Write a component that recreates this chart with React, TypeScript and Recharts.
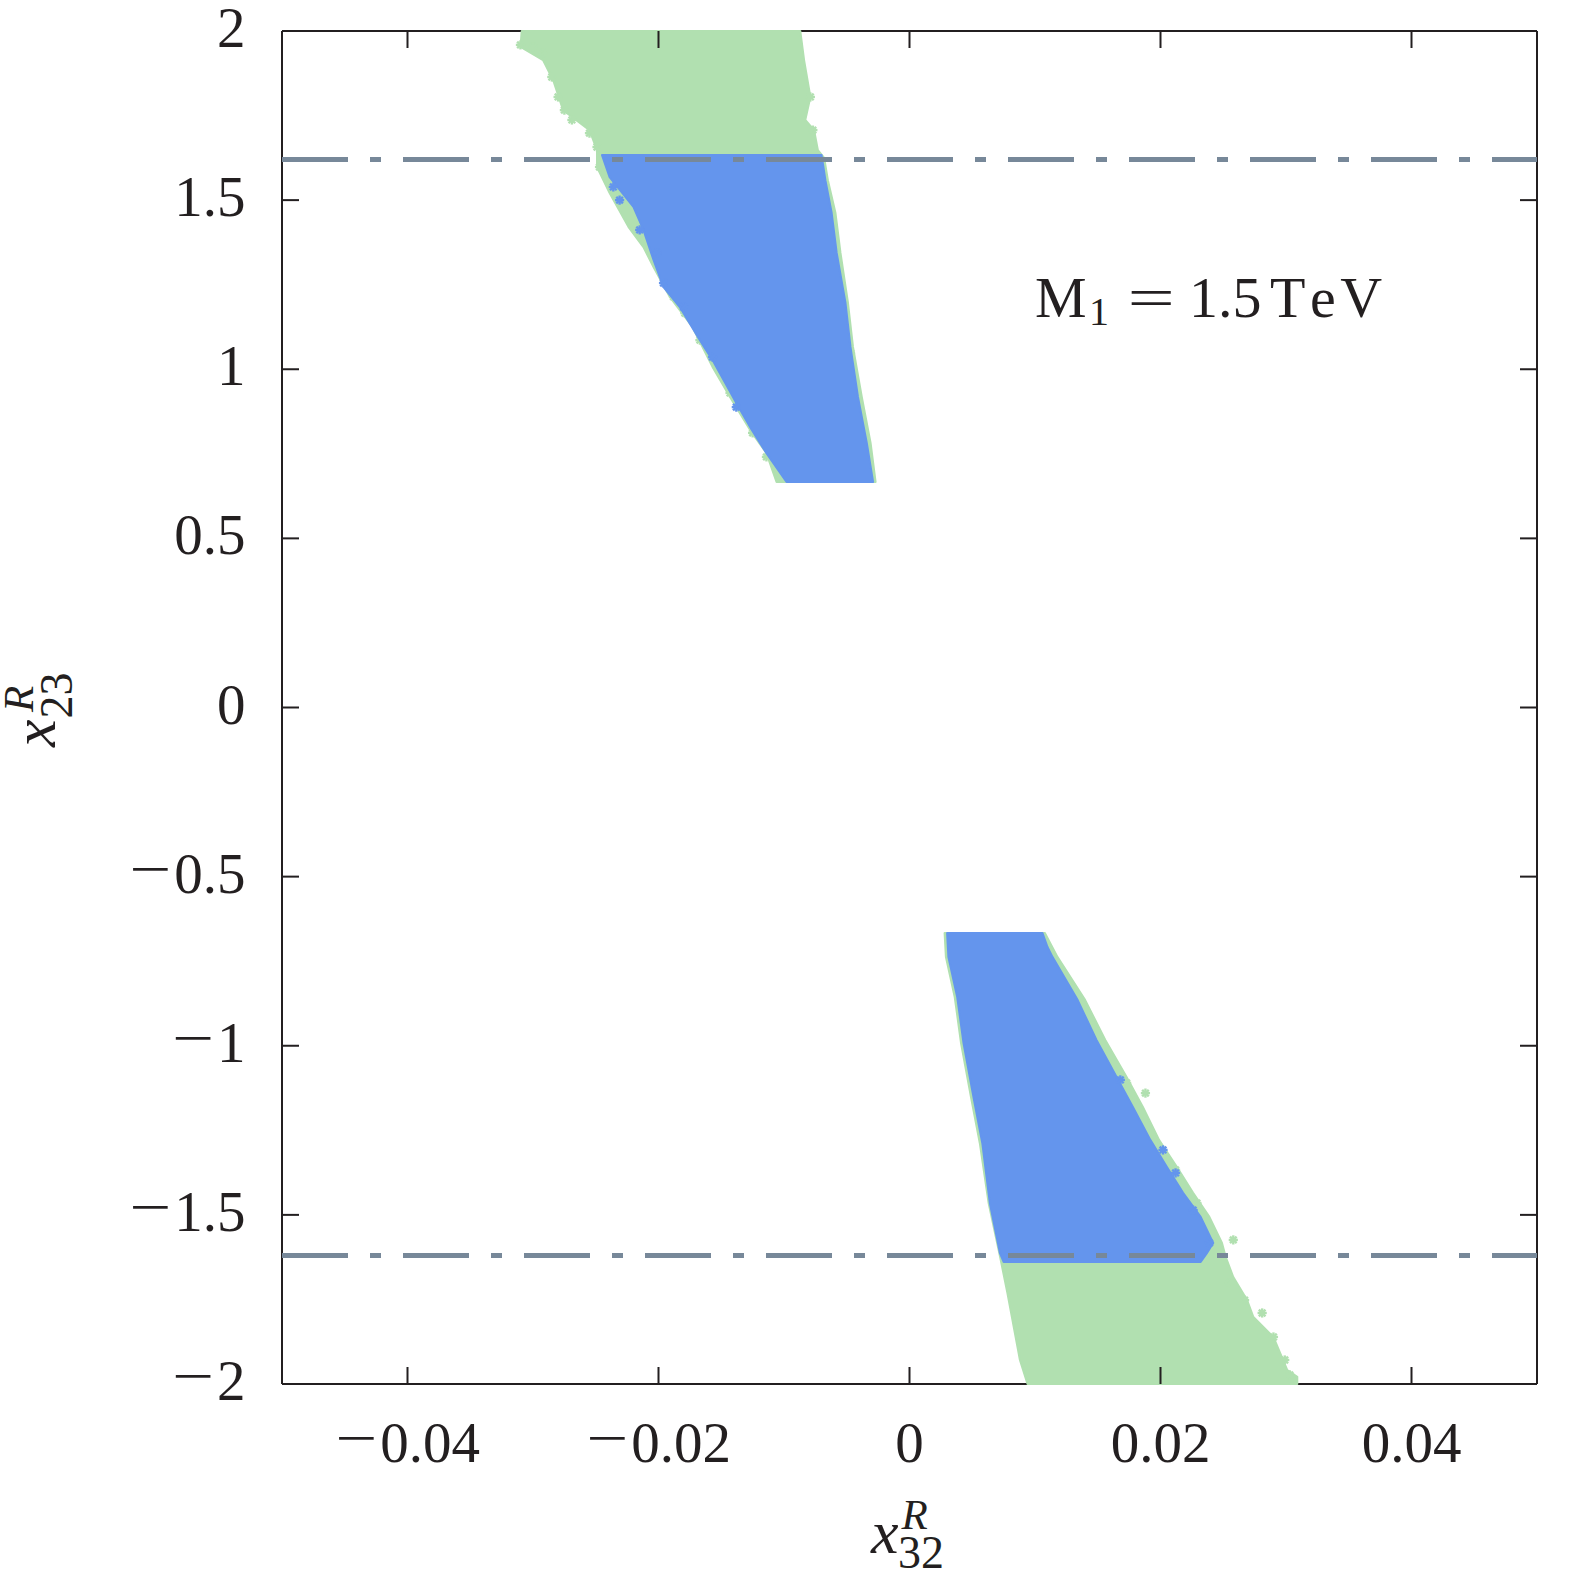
import React from "react";
import { ScatterChart, Scatter, XAxis, YAxis, ReferenceLine } from "recharts";

const FONT = '"Liberation Serif", "Times New Roman", serif';
const INK = "#231f20";
const GREEN = "#b1e0b0";
const BLUE = "#6495ed";
const SLATE = "#778899";

const TICK_FS = 57;

// ─── Data ──────────────────────────────────────────────────

const xTicks = [-0.04, -0.02, 0, 0.02, 0.04];
const yTicks = [-2, -1.5, -1, -0.5, 0, 0.5, 1, 1.5, 2];
const cutLevels = [1.62, -1.62];

// outlines of the dense point clouds, as (x32, x23) pairs
const greenUpper: [number, number][] = [
  [-0.0309, 2.0], [-0.031, 1.953], [-0.0292, 1.914], [-0.0284, 1.855],
  [-0.0276, 1.766], [-0.0255, 1.707], [-0.0249, 1.648], [-0.0249, 1.598],
  [-0.0239, 1.521], [-0.0224, 1.421], [-0.0212, 1.361], [-0.0204, 1.302],
  [-0.0191, 1.214], [-0.0173, 1.125], [-0.0157, 1.007], [-0.0143, 0.918],
  [-0.0127, 0.82], [-0.0114, 0.752], [-0.0106, 0.667], [-0.0027, 0.667],
  [-0.0031, 0.782], [-0.0038, 0.918], [-0.0045, 1.066], [-0.0049, 1.196],
  [-0.0055, 1.344], [-0.0059, 1.462], [-0.0065, 1.559], [-0.0068, 1.625],
  [-0.0073, 1.648], [-0.0076, 1.707], [-0.0083, 1.737], [-0.0079, 1.805],
  [-0.0084, 1.914], [-0.0087, 2.0],
];

const blueUpper: [number, number][] = [
  [-0.0245, 1.633], [-0.0239, 1.568], [-0.022, 1.48], [-0.0212, 1.412],
  [-0.0204, 1.323], [-0.0196, 1.243], [-0.0183, 1.184], [-0.0167, 1.086],
  [-0.0157, 1.027], [-0.0138, 0.9], [-0.0127, 0.829], [-0.0114, 0.752],
  [-0.0098, 0.667], [-0.0029, 0.667], [-0.0034, 0.782], [-0.0041, 0.918],
  [-0.0047, 1.066], [-0.0051, 1.196], [-0.0058, 1.344], [-0.0062, 1.462],
  [-0.0067, 1.559], [-0.007, 1.633],
];

const greenLower: [number, number][] = [
  [0.0028, -0.667], [0.0029, -0.738], [0.0036, -0.856], [0.0041, -0.992],
  [0.0049, -1.152], [0.0056, -1.288], [0.0063, -1.465], [0.0072, -1.622],
  [0.0078, -1.731], [0.0083, -1.831], [0.0088, -1.929], [0.0094, -2.0],
  [0.0309, -2.0], [0.0309, -1.979], [0.0301, -1.959], [0.029, -1.861],
  [0.0274, -1.802], [0.0269, -1.752], [0.0258, -1.684], [0.0252, -1.625],
  [0.0249, -1.583], [0.0239, -1.506], [0.0226, -1.435], [0.0213, -1.358],
  [0.0199, -1.279], [0.0186, -1.181], [0.0173, -1.092], [0.0156, -0.983],
  [0.014, -0.865], [0.0118, -0.738], [0.0108, -0.667],
];

const blueLower: [number, number][] = [
  [0.003, -0.667], [0.0031, -0.738], [0.0038, -0.856], [0.0043, -0.992],
  [0.0051, -1.152], [0.0058, -1.288], [0.0064, -1.465], [0.0072, -1.613],
  [0.0075, -1.639], [0.0232, -1.639], [0.0237, -1.613], [0.0242, -1.583],
  [0.0232, -1.506], [0.0218, -1.435], [0.0205, -1.358], [0.0192, -1.279],
  [0.0178, -1.181], [0.0165, -1.092], [0.0149, -0.983], [0.0134, -0.865],
  [0.0128, -0.826], [0.0114, -0.738], [0.011, -0.708], [0.0106, -0.667],
];

// loose points sitting on the ragged edges
const greenStray: [number, number][] = [
  [-0.031, 1.959], [-0.03, 1.953], [-0.0292, 1.935], [-0.0285, 1.864],
  [-0.028, 1.805], [-0.0275, 1.766], [-0.0269, 1.737], [-0.0255, 1.698],
  [-0.0249, 1.657], [-0.0247, 1.598], [-0.0231, 1.521], [-0.022, 1.432],
  [-0.0212, 1.382], [-0.0201, 1.323], [-0.0188, 1.214], [-0.0179, 1.166],
  [-0.0167, 1.086], [-0.0153, 1.007], [-0.0143, 0.93], [-0.0125, 0.812],
  [-0.0114, 0.741], [-0.0103, 0.681], [-0.0071, 1.509], [-0.0079, 1.805],
  [-0.0077, 1.707], [-0.0053, 1.184], [-0.0047, 1.048],
  [0.0142, -0.924], [0.0153, -1.013], [0.0173, -1.11], [0.0188, -1.14],
  [0.0178, -1.16], [0.0194, -1.279], [0.0212, -1.367], [0.0221, -1.447],
  [0.0229, -1.465], [0.0234, -1.545], [0.0258, -1.574], [0.0255, -1.701],
  [0.0267, -1.752], [0.0281, -1.79], [0.029, -1.861], [0.0299, -1.929],
  [0.0303, -1.973],
];

const blueStray: [number, number][] = [
  [-0.0236, 1.539], [-0.0231, 1.5], [-0.0215, 1.412], [-0.0201, 1.344],
  [-0.0196, 1.255], [-0.018, 1.184], [-0.0157, 1.036], [-0.0138, 0.888],
  [0.0168, -1.101], [0.0202, -1.308], [0.0212, -1.376], [0.0226, -1.486],
  [0.0239, -1.583],
];

const toPoints = (arr: [number, number][]) => arr.map(([x, y]) => ({ x, y }));

// ─── Shapes ────────────────────────────────────────────────

const filledOutline = (color: string) => (props: any) => {
  const pts = (props.points || []).filter((p: any) => p.x != null && p.y != null);
  if (!pts.length) return <g />;
  const d =
    pts.map((p: any, i: number) => `${i ? "L" : "M"}${p.x.toFixed(1)},${p.y.toFixed(1)}`).join(" ") + " Z";
  return <path d={d} fill={color} stroke={color} strokeWidth={2} strokeLinejoin="round" />;
};

const noMarker = () => <g />;

const starMarker = (color: string) => (props: any) => {
  const { cx, cy } = props;
  if (cx == null || cy == null) return <g />;
  const r = 4.6;
  const k = r * 0.72;
  return (
    <g stroke={color} strokeWidth={2.4}>
      <line x1={cx - r} y1={cy} x2={cx + r} y2={cy} />
      <line x1={cx} y1={cy - r} x2={cx} y2={cy + r} />
      <line x1={cx - k} y1={cy - k} x2={cx + k} y2={cy + k} />
      <line x1={cx - k} y1={cy + k} x2={cx + k} y2={cy - k} />
    </g>
  );
};

// ─── Tick labels ───────────────────────────────────────────

const digitsWidth = (s: string) =>
  [...s].reduce((w, c) => w + (c === "." ? 0.25 : 0.5) * TICK_FS, 0);

function NumberLabel({ value, x, y, anchor }: { value: number; x: number; y: number; anchor: "middle" | "end" }) {
  const digits = String(Math.abs(value));
  const neg = value < 0;
  const minusW = 42;
  const gap = 3;
  const dw = digitsWidth(digits);
  const total = dw + (neg ? minusW + gap : 0);
  const right = anchor === "end" ? x : x + total / 2;
  const start = right - dw;
  return (
    <g fontFamily={FONT} fontSize={TICK_FS} fill={INK}>
      {neg && (
        <text x={start - gap - minusW} y={y - 5} textLength={minusW} lengthAdjust="spacingAndGlyphs">
          −
        </text>
      )}
      <text x={start} y={y}>
        {digits}
      </text>
    </g>
  );
}

const TICK_LEN = 17;

function BottomTick(props: any) {
  const { x, y, payload } = props;
  return (
    <g>
      <line x1={x} y1={y} x2={x} y2={y - TICK_LEN} stroke={INK} strokeWidth={2} />
      <NumberLabel value={payload.value} x={x} y={y + 78} anchor="middle" />
    </g>
  );
}

function TopTick(props: any) {
  const { x, y } = props;
  return <line x1={x} y1={y} x2={x} y2={y + TICK_LEN} stroke={INK} strokeWidth={2} />;
}

function LeftTick(props: any) {
  const { x, y, payload } = props;
  return (
    <g>
      <line x1={x} y1={y} x2={x + TICK_LEN} y2={y} stroke={INK} strokeWidth={2} />
      <NumberLabel value={payload.value} x={x - 36.5} y={y + 16} anchor="end" />
    </g>
  );
}

function RightTick(props: any) {
  const { x, y } = props;
  return <line x1={x} y1={y} x2={x - TICK_LEN} y2={y} stroke={INK} strokeWidth={2} />;
}

// ─── Chart ─────────────────────────────────────────────────

const W = 1574;
const H = 1574;

export default function App() {
  const axisLine = { stroke: INK, strokeWidth: 2 };
  return (
    <div style={{ position: "absolute", left: 0, top: 0, width: W, height: H, background: "#fff" }}>
      <ScatterChart width={W} height={H} margin={{ top: 30, right: 36, bottom: 0, left: 0 }}>
        <XAxis
          type="number"
          dataKey="x"
          domain={[-0.05, 0.05]}
          ticks={xTicks}
          interval={0}
          height={190}
          tickSize={0}
          tickMargin={0}
          tickLine={false}
          axisLine={axisLine}
          tick={BottomTick}
        />
        <XAxis
          xAxisId="top"
          orientation="top"
          type="number"
          dataKey="x"
          domain={[-0.05, 0.05]}
          ticks={xTicks}
          interval={0}
          height={1}
          tickSize={0}
          tickMargin={0}
          tickLine={false}
          axisLine={axisLine}
          tick={TopTick}
        />
        <YAxis
          type="number"
          dataKey="y"
          domain={[-2, 2]}
          ticks={yTicks}
          interval={0}
          width={282}
          tickSize={0}
          tickMargin={0}
          tickLine={false}
          axisLine={axisLine}
          tick={LeftTick}
        />
        <YAxis
          yAxisId="right"
          orientation="right"
          type="number"
          dataKey="y"
          domain={[-2, 2]}
          ticks={yTicks}
          interval={0}
          width={1}
          tickSize={0}
          tickMargin={0}
          tickLine={false}
          axisLine={axisLine}
          tick={RightTick}
        />

        <Scatter data={toPoints(greenUpper)} fill={GREEN} shape={noMarker} line={filledOutline(GREEN)} isAnimationActive={false} />
        <Scatter data={toPoints(greenLower)} fill={GREEN} shape={noMarker} line={filledOutline(GREEN)} isAnimationActive={false} />
        <Scatter data={toPoints(greenStray)} fill={GREEN} shape={starMarker(GREEN)} isAnimationActive={false} />
        <Scatter data={toPoints(blueUpper)} fill={BLUE} shape={noMarker} line={filledOutline(BLUE)} isAnimationActive={false} />
        <Scatter data={toPoints(blueLower)} fill={BLUE} shape={noMarker} line={filledOutline(BLUE)} isAnimationActive={false} />
        <Scatter
          data={toPoints(blueStray)}
          xAxisId="top"
          yAxisId="right"
          fill={BLUE}
          shape={starMarker(BLUE)}
          isAnimationActive={false}
        />

        {cutLevels.map((lv) => (
          <ReferenceLine key={lv} y={lv} stroke={SLATE} strokeWidth={5} strokeDasharray="66 22 11 22" zIndex={1000} />
        ))}
      </ScatterChart>

      {/* axis titles and annotation */}
      <svg
        width={W}
        height={H}
        style={{ position: "absolute", left: 0, top: 0, pointerEvents: "none" }}
        fontFamily={FONT}
        fill={INK}
      >
        <text x={871} y={1552.7} fontSize={62} fontStyle="italic">x</text>
        <text x={901.5} y={1529} fontSize={43} fontStyle="italic">R</text>
        <text x={898} y={1568.3} fontSize={46}>32</text>

        <text transform="translate(55,747) rotate(-90)" fontSize={62} fontStyle="italic">x</text>
        <text transform="translate(33,712) rotate(-90)" fontSize={43} fontStyle="italic">R</text>
        <text transform="translate(72,718.5) rotate(-90)" fontSize={46}>23</text>

        <text x={1035} y={316.7} fontSize={58}>M</text>
        <text x={1089} y={325} fontSize={40}>1</text>
        <text x={1127.5} y={316.7} fontSize={58} textLength={47.4} lengthAdjust="spacingAndGlyphs">=</text>
        <text x={1189} y={316.7} fontSize={58}>1.5</text>
        <text x={1270} y={316.7} fontSize={58} letterSpacing={4.5} style={{ fontKerning: "none" }}>TeV</text>
      </svg>
    </div>
  );
}
